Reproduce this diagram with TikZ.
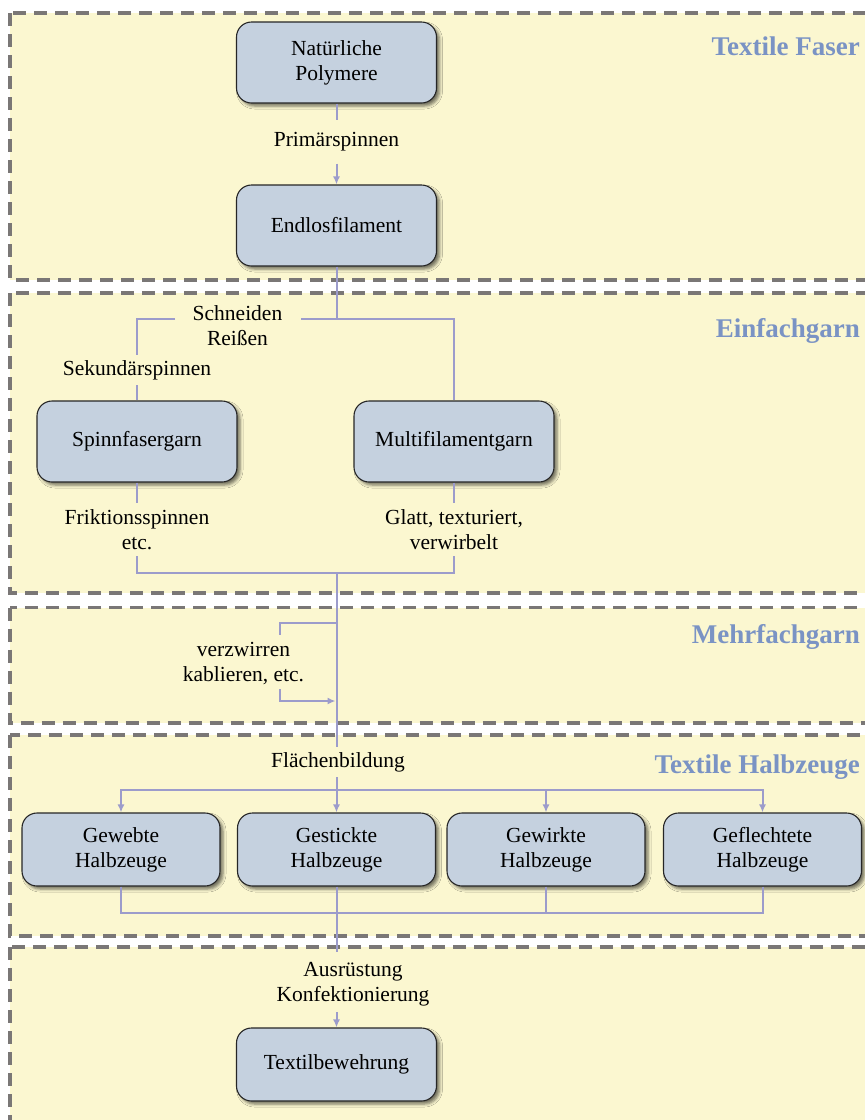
\documentclass[tikz,border=0pt]{standalone}
\usepackage{fontspec}
\setmainfont{Liberation Serif}
\usetikzlibrary{arrows.meta,shadows.blur}
\definecolor{bgyel}{HTML}{FBF7D0}
\definecolor{dashgray}{HTML}{7A7776}
\definecolor{boxfill}{HTML}{C5D1DF}
\definecolor{connc}{HTML}{9C9CCB}
\definecolor{headc}{HTML}{7A93C4}
\begin{document}
\begin{tikzpicture}[x=1pt,y=-1pt,
  section/.style={fill=bgyel, draw=dashgray, line width=3.2pt, dash pattern=on 13pt off 8pt},
  box/.style={draw=black!85, line width=1.1pt, fill=boxfill, rounded corners=15pt,
    minimum width=200pt, minimum height=81pt, align=center, inner sep=0pt,
    font=\fontsize{21.5}{25}\selectfont,
    blur shadow={shadow xshift=3pt, shadow yshift=-3pt, shadow blur radius=3pt, shadow opacity=55}},
  hbox/.style={box, minimum width=198pt, minimum height=73pt},
  lbl/.style={align=center, inner sep=0pt, font=\fontsize{21.5}{25}\selectfont},
  head/.style={anchor=base east, inner sep=0pt, text=headc, font=\fontsize{27}{30}\selectfont\bfseries},
  conn/.style={draw=connc, line width=2pt},
  arr/.style={conn, -{Latex[length=8pt,width=7pt]}}
]
\useasboundingbox (0,0) rectangle (865,1120);
\clip (0,0) rectangle (865,1120);

% sections
\path[section] (10,13) rectangle (885,280);
\path[section] (10,293) rectangle (885,593);
\path[section] (10,607.5) rectangle (885,723);
\path[section] (10,735) rectangle (885,936);
\path[section] (10,947) rectangle (885,1140);

% headings
\node[head] (h1) at (860,55) {Textile Faser};
\node[head] (h2) at (860,337) {Einfachgarn};
\node[head] (h3) at (860,643) {Mehrfachgarn};
\node[head] (h4) at (860,773) {Textile Halbzeuge};

% Textile Faser
\node[box] (np) at (336.5,62.5) {Natürliche\\Polymere};
\node[lbl, minimum height=43pt] (prim) at (336.5,142) {Primärspinnen};
\node[box] (ef) at (336.5,225.5) {Endlosfilament};
\draw[conn] (np) -- (prim);
\draw[arr] (prim) -- (ef);

% Einfachgarn
\node[box] (sfg) at (137,441.5) {Spinnfasergarn};
\node[box] (mfg) at (454,441.5) {Multifilamentgarn};
\node[lbl] (sr) at (237.5,325.5) {Schneiden\\Reißen};
\node[lbl, minimum height=30pt] (sek) at (137,370) {Sekundärspinnen};
\node[lbl, minimum height=53pt] (fr) at (137,529.5) {Friktionsspinnen\\etc.};
\node[lbl, minimum height=53pt] (gl) at (454,529.5) {Glatt, texturiert,\\verwirbelt};
\coordinate (j1) at (336.5,319);
\coordinate (srR) at (301,319);
\coordinate (srL) at (175,319);
\coordinate (j2) at (336.5,573);
\draw[conn] (ef) -- (j1) -- (srR);
\draw[conn] (srL) -| (sek);
\draw[conn] (sek) -- (sfg);
\draw[conn] (j1) -| (mfg);
\draw[conn] (sfg) -- (fr);
\draw[conn] (mfg) -- (gl);
\draw[conn] (fr) |- (j2);
\draw[conn] (gl) |- (j2);

% Mehrfachgarn
\node[lbl] (vz) at (243.5,664) {verzwirren\\kablieren, etc.};
\coordinate (m1) at (336.5,623);
\coordinate (m2) at (335.5,701);
\coordinate (vzT) at (280,635);
\coordinate (vzB) at (280,689);
\draw[conn] (m1) -| (vzT);
\draw[arr] (vzB) |- (m2);

% Textile Halbzeuge
\node[lbl, minimum height=30pt] (flb) at (338,762) {Flächenbildung};
\coordinate (flbT) at (336.5,747);
\coordinate (flbB) at (336.5,777);
\draw[conn] (j2) -- (flbT);
\node[hbox] (gw) at (121,849.5) {Gewebte\\Halbzeuge};
\node[hbox] (gs) at (336.5,849.5) {Gestickte\\Halbzeuge};
\node[hbox] (gk) at (546,849.5) {Gewirkte\\Halbzeuge};
\node[hbox] (gf) at (762.5,849.5) {Geflechtete\\Halbzeuge};
\coordinate (j3) at (336.5,790);
\draw[conn] (flbB) -- (j3);
\draw[arr] (j3) -- (gs);
\draw[arr] (j3) -| (gw);
\draw[arr] (j3) -| (gk);
\draw[arr] (j3) -| (gf);
\coordinate (j4) at (336.5,913);
\draw[conn] (gw) |- (j4);
\draw[conn] (gk) |- (j4);
\draw[conn] (gf) |- (j4);

% final section
\node[lbl] (ak) at (353,984.5) {Ausrüstung\\Konfektionierung};
\node[box, minimum height=73pt] (tb) at (336.5,1064.5) {Textilbewehrung};
\coordinate (akT) at (336.5,952);
\coordinate (akB) at (336.5,1012);
\draw[conn] (gs) -- (akT);
\draw[arr] (akB) -- (tb);
\end{tikzpicture}
\end{document}
